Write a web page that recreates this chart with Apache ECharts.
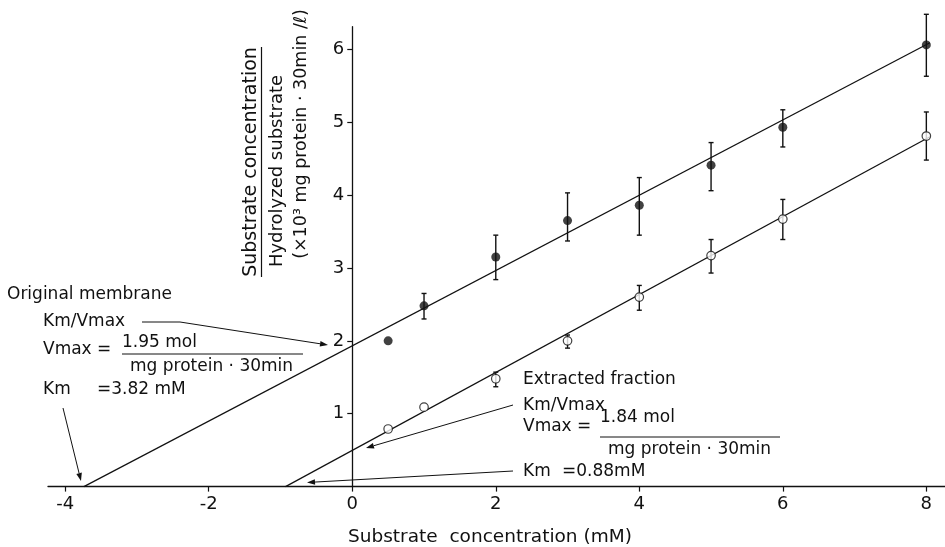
<!DOCTYPE html>
<html><head><meta charset="utf-8">
<script src="https://cdn.jsdelivr.net/npm/echarts@6/dist/echarts.min.js"></script>
<style>html,body{margin:0;padding:0;background:#fff}#c{width:945px;height:547px}</style>
</head><body><div id="c"></div>
<script>
// ---- data ----
const xTicks = [-4, -2, 0, 2, 4, 6, 8];
const yTicks = [1, 2, 3, 4, 5, 6];
const concentrations = [0.5, 1, 2, 3, 4, 5, 6, 8];
const originalMean = [2.00, 2.48, 3.15, 3.65, 3.86, 4.41, 4.93, 6.06];
const originalLow  = [null, 2.30, 2.84, 3.37, 3.45, 4.06, 4.66, 5.63];
const originalHigh = [null, 2.65, 3.45, 4.03, 4.24, 4.72, 5.17, 6.48];
const extractedMean = [0.79, 1.09, 1.48, 2.00, 2.60, 3.17, 3.67, 4.81];
const extractedLow  = [null, null, 1.37, 1.90, 2.42, 2.93, 3.39, 4.48];
const extractedHigh = [null, null, 1.57, 2.08, 2.76, 3.39, 3.94, 5.14];
const originalFitX = [-3.74, 8.05];
const originalFitY = [0, 6.09];
const extractedFitX = [-0.93, 8.05];
const extractedFitY = [0, 4.80];

// ---- build ----
const INK = '#111';
const FONT = 'DejaVu Sans';
const X_MIN = -4.24, X_MAX = 8.26;
const GRID = { left: 48, right: 0, top: 26.7, bottom: 60.4 };
const plotW = 945 - GRID.left - GRID.right;
const yAxisOffset = -((0 - X_MIN) / (X_MAX - X_MIN)) * plotW; // place y axis at x = 0

const pairs = (xs, ys) => xs.map((x, i) => [x, ys[i]]);
const bars = (xs, lo, hi) => xs.map((x, i) => [x, lo[i], hi[i]]).filter(d => d[1] != null);

function errRender(params, api) {
  const x = api.value(0), lo = api.value(1), hi = api.value(2);
  const t = api.coord([x, hi]), b = api.coord([x, lo]);
  const w = 2.5, st = { stroke: INK, lineWidth: 1.4 };
  return { type: 'group', children: [
    { type: 'line', shape: { x1: t[0], y1: t[1], x2: b[0], y2: b[1] }, style: st },
    { type: 'line', shape: { x1: t[0] - w, y1: t[1], x2: t[0] + w, y2: t[1] }, style: st },
    { type: 'line', shape: { x1: b[0] - w, y1: b[1], x2: b[0] + w, y2: b[1] }, style: st }
  ]};
}

function txt(text, x, y, size, align) {
  return { type: 'text', x: x, y: y, z: 10,
    style: { text: text, fontSize: size, fontFamily: FONT, fill: INK,
      align: align || 'left', verticalAlign: 'middle' } };
}
function rtxt(text, x, y, size) {
  return { type: 'text', x: x, y: y, rotation: Math.PI / 2, z: 10,
    style: { text: text, fontSize: size, fontFamily: FONT, fill: INK,
      align: 'center', verticalAlign: 'middle' } };
}
function seg(x1, y1, x2, y2, lw) {
  return { type: 'line', z: 10, shape: { x1, y1, x2, y2 }, style: { stroke: INK, lineWidth: lw || 1 } };
}
function arrow(points) {
  const n = points.length;
  const tip = points[n - 1], prev = points[n - 2];
  const dx = tip[0] - prev[0], dy = tip[1] - prev[1];
  const L = Math.hypot(dx, dy), ux = dx / L, uy = dy / L;
  const len = 8, hw = 2.8;
  const bx = tip[0] - ux * len, by = tip[1] - uy * len;
  return [
    { type: 'polyline', z: 10, shape: { points: points.slice(0, n - 1).concat([[bx, by]]) },
      style: { stroke: INK, lineWidth: 1, fill: null } },
    { type: 'polygon', z: 10, shape: { points: [tip, [bx - uy * hw, by + ux * hw], [bx + uy * hw, by - ux * hw]] },
      style: { fill: INK } }
  ];
}

const graphics = [
  // y-axis title
  rtxt('Substrate concentration', 251, 162, 19),
  seg(261.5, 47, 261.5, 277, 1.2),
  rtxt('Hydrolyzed substrate', 277, 171, 18),
  rtxt('(×10³ mg protein · 30min /ℓ)', 301, 134, 17.5),
  // x-axis title
  txt('Substrate  concentration (mM)', 348, 537, 18.5),
  // original membrane block
  txt('Original membrane', 7, 295, 17),
  txt('Km/Vmax', 43, 322, 17),
  ...arrow([[142, 322], [180, 322], [328, 345]]),
  txt('Vmax =', 43, 350, 17),
  txt('1.95 mol', 122, 343, 17),
  seg(122, 354, 303, 354, 1),
  txt('mg protein · 30min', 130, 367, 17),
  txt('Km', 43, 390, 17),
  txt('=3.82 mM', 97, 390, 17),
  ...arrow([[63, 408], [81, 481]]),
  // extracted fraction block
  txt('Extracted fraction', 523, 380, 17),
  txt('Km/Vmax', 523, 406, 17),
  ...arrow([[513, 405], [366, 448]]),
  txt('Vmax =', 523, 427, 17),
  txt('1.84 mol', 600, 418, 17),
  seg(600, 437, 780, 437, 1),
  txt('mg protein · 30min', 608, 450, 17),
  txt('Km', 523, 472, 17),
  txt('=0.88mM', 562, 472, 17),
  ...arrow([[513, 471], [307, 482.5]])
];

const axisLabelStyle = { color: INK, fontSize: 18, fontFamily: FONT };

const option = {
  animation: false,
  backgroundColor: '#fff',
  grid: GRID,
  xAxis: {
    type: 'value', min: X_MIN, max: X_MAX,
    splitLine: { show: false },
    axisLine: { show: true, onZero: false, lineStyle: { color: INK, width: 1.3 } },
    axisTick: { show: true, customValues: xTicks, length: 5, lineStyle: { color: INK, width: 1.2 } },
    axisLabel: Object.assign({ customValues: xTicks, margin: 9 }, axisLabelStyle)
  },
  yAxis: {
    type: 'value', min: 0, max: 6.31, position: 'left', offset: yAxisOffset,
    splitLine: { show: false },
    axisLine: { show: true, onZero: false, lineStyle: { color: INK, width: 1.3 } },
    axisTick: { show: true, customValues: yTicks, length: 5, lineStyle: { color: INK, width: 1.2 } },
    axisLabel: Object.assign({ customValues: yTicks, margin: 8 }, axisLabelStyle)
  },
  series: [
    { name: 'Original membrane fit', type: 'line', data: pairs(originalFitX, originalFitY), symbol: 'none',
      lineStyle: { color: INK, width: 1.2 }, z: 1, clip: false },
    { name: 'Extracted fraction fit', type: 'line', data: pairs(extractedFitX, extractedFitY), symbol: 'none',
      lineStyle: { color: INK, width: 1.2 }, z: 1, clip: false },
    { name: 'Original membrane SD', type: 'custom', renderItem: errRender, clip: false, z: 2,
      data: bars(concentrations, originalLow, originalHigh) },
    { name: 'Extracted fraction SD', type: 'custom', renderItem: errRender, clip: false, z: 2,
      data: bars(concentrations, extractedLow, extractedHigh) },
    { name: 'Original membrane', type: 'scatter', data: pairs(concentrations, originalMean),
      symbol: 'circle', symbolSize: 9, itemStyle: { color: INK }, z: 3, clip: false },
    { name: 'Extracted fraction', type: 'scatter', data: pairs(concentrations, extractedMean),
      symbol: 'circle', symbolSize: 8.5, itemStyle: { color: '#fff', borderColor: INK, borderWidth: 1.2 }, z: 3, clip: false }
  ],
  graphic: graphics
};

const chart = echarts.init(document.getElementById('c'), null, { renderer: 'canvas' });
chart.setOption(option);
</script>
</body></html>
